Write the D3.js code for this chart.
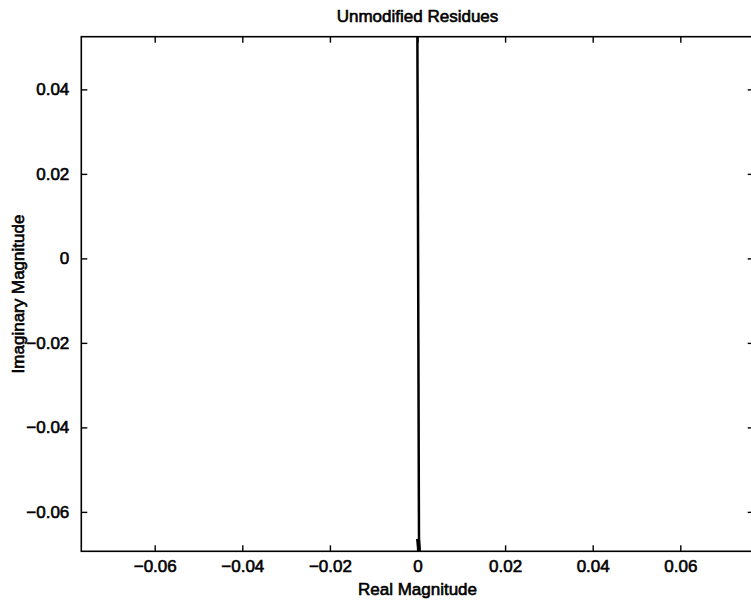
<!DOCTYPE html>
<html>
<head>
<meta charset="utf-8">
<script src="https://cdn.jsdelivr.net/npm/d3@7"></script>
<style>
  body { margin: 0; background: #ffffff; }
  text { font-family: Arial, "Liberation Sans", Helvetica, sans-serif; fill: #000; }
</style>
</head>
<body>
<svg id="chart" width="751" height="601"></svg>
<script>
// Axis limits and tick values
const xLimits = [-0.07676, 0.07676];
const yLimits = [-0.06933, 0.05247];
const xTicks = [-0.06, -0.04, -0.02, 0, 0.02, 0.04, 0.06];
const yTicks = [-0.06, -0.04, -0.02, 0, 0.02, 0.04];

// Residues (real, imaginary) — they lie almost on the imaginary axis
const residueReal = [-0.00005, 0.00008, 0.00020, 0.00030, 0.00035, 0.00040];
const residueImag = [0.0600, 0.0200, -0.0200, -0.0550, -0.0680, -0.0800];

// Small cluster of residues packed together near the bottom
const clusterReal = [0.00012, 0.00030, 0.00036];
const clusterImag = [-0.0664, -0.0684, -0.0700];

const titleText = "Unmodified Residues";
const xLabelText = "Real Magnitude";
const yLabelText = "Imaginary Magnitude";

const margin = { left: 81.3, top: 36.7, right: 753.7, bottom: 551.3 };
const svg = d3.select("#chart");

const x = d3.scaleLinear().domain(xLimits).range([margin.left, margin.right]);
const y = d3.scaleLinear().domain(yLimits).range([margin.bottom, margin.top]);

const fmt = v => (v === 0 ? "0" : d3.format(".2f")(v).replace("-", "\u2212"));
const tickLen = 6;
const textWeight = 0.6;

// Clip region for the data
svg.append("defs").append("clipPath").attr("id", "plotClip")
  .append("rect")
  .attr("x", margin.left).attr("y", margin.top)
  .attr("width", margin.right - margin.left)
  .attr("height", margin.bottom - margin.top);

const plot = svg.append("g").attr("clip-path", "url(#plotClip)");

const line = d3.line().x(d => x(d[0])).y(d => y(d[1]));

plot.append("path")
  .datum(d3.zip(residueReal, residueImag))
  .attr("d", line)
  .attr("fill", "none")
  .attr("stroke", "#000")
  .attr("stroke-width", 2.5);

plot.append("path")
  .datum(d3.zip(clusterReal, clusterImag))
  .attr("d", line)
  .attr("fill", "none")
  .attr("stroke", "#000")
  .attr("stroke-width", 4);

// Axes with inward ticks on all four sides
const axisStyle = g => {
  g.select(".domain").remove();
  g.selectAll(".tick line").attr("stroke", "#000").attr("stroke-width", 1.4);
  g.selectAll(".tick text")
    .attr("font-size", "17px")
    .attr("stroke", "#000").attr("stroke-width", textWeight);
};

svg.append("g")
  .attr("transform", `translate(0,${margin.bottom})`)
  .call(d3.axisBottom(x).tickValues(xTicks).tickFormat(fmt).tickSizeInner(-tickLen).tickSizeOuter(0).tickPadding(9))
  .call(axisStyle);

svg.append("g")
  .attr("transform", `translate(0,${margin.top})`)
  .call(d3.axisTop(x).tickValues(xTicks).tickFormat("").tickSizeInner(-tickLen).tickSizeOuter(0))
  .call(axisStyle);

svg.append("g")
  .attr("transform", `translate(${margin.left},0)`)
  .call(d3.axisLeft(y).tickValues(yTicks).tickFormat(fmt).tickSizeInner(-tickLen).tickSizeOuter(0).tickPadding(12))
  .call(axisStyle);

svg.append("g")
  .attr("transform", `translate(${margin.right},0)`)
  .call(d3.axisRight(y).tickValues(yTicks).tickFormat("").tickSizeInner(-tickLen).tickSizeOuter(0))
  .call(axisStyle);

// Axes box
svg.append("rect")
  .attr("x", margin.left).attr("y", margin.top)
  .attr("width", margin.right - margin.left)
  .attr("height", margin.bottom - margin.top)
  .attr("fill", "none")
  .attr("stroke", "#000")
  .attr("stroke-width", 1.6);

const midX = (margin.left + margin.right) / 2;
const midY = (margin.top + margin.bottom) / 2;

svg.append("text")
  .attr("x", midX).attr("y", 22)
  .attr("text-anchor", "middle")
  .attr("font-size", "17px")
  .attr("stroke", "#000").attr("stroke-width", textWeight)
  .text(titleText);

svg.append("text")
  .attr("x", midX).attr("y", 595)
  .attr("text-anchor", "middle")
  .attr("font-size", "17px")
  .attr("stroke", "#000").attr("stroke-width", textWeight)
  .text(xLabelText);

svg.append("text")
  .attr("transform", `translate(24,${midY}) rotate(-90)`)
  .attr("text-anchor", "middle")
  .attr("font-size", "17px")
  .attr("stroke", "#000").attr("stroke-width", textWeight)
  .text(yLabelText);
</script>
</body>
</html>
